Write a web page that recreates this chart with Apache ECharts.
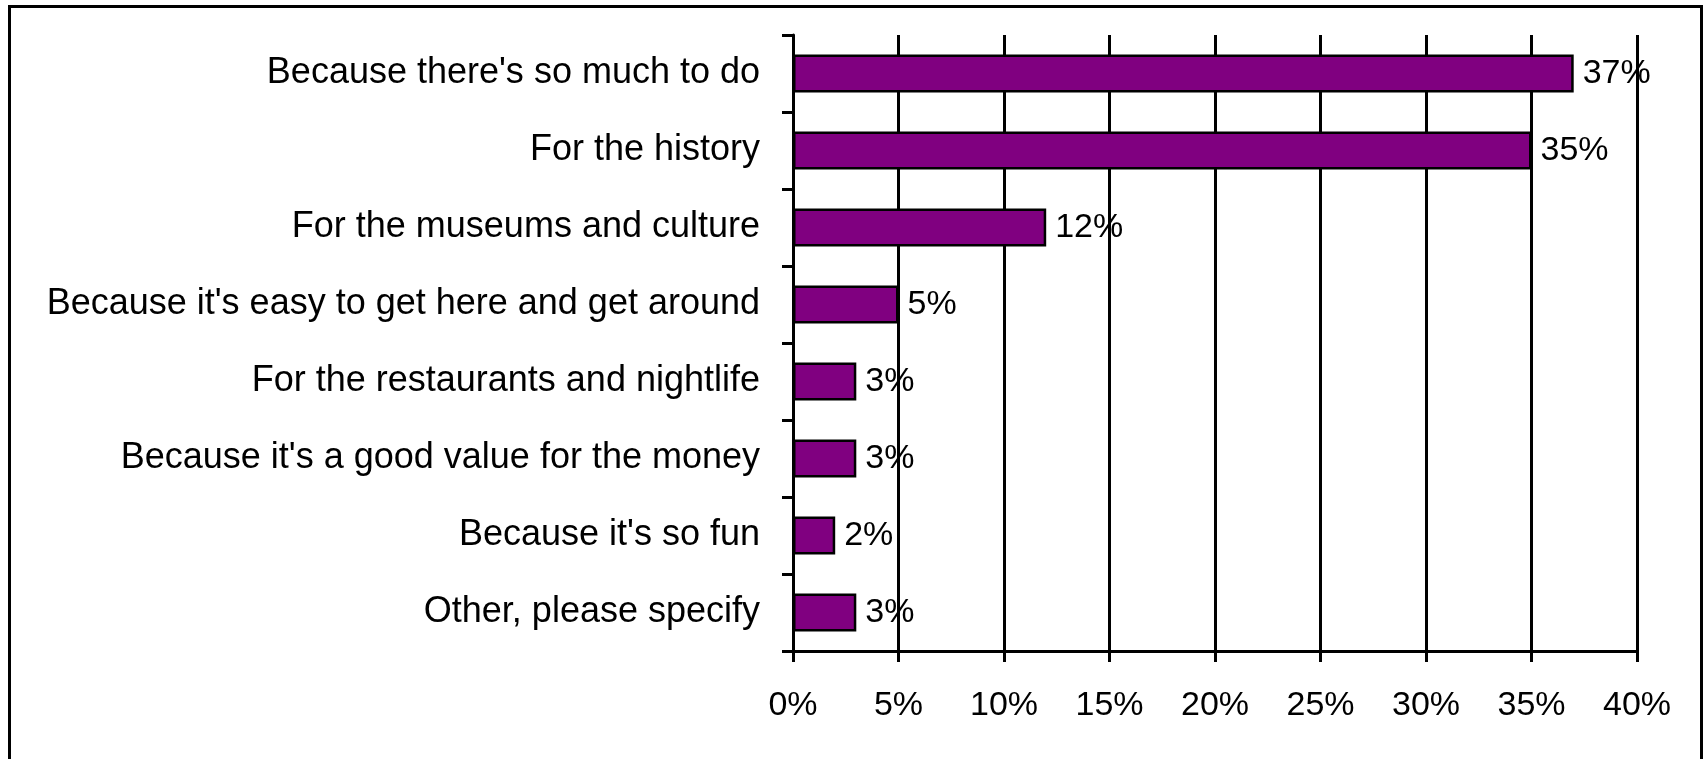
<!DOCTYPE html>
<html>
<head>
<meta charset="utf-8">
<script src="https://cdn.jsdelivr.net/npm/echarts@6/dist/echarts.min.js"></script>
<style>
html,body{margin:0;padding:0;background:#fff;}
#chart{width:1706px;height:759px;}
</style>
</head>
<body>
<div id="chart"></div>
<script>
const categories = [
  "Because there's so much to do",
  "For the history",
  "For the museums and culture",
  "Because it's easy to get here and get around",
  "For the restaurants and nightlife",
  "Because it's a good value for the money",
  "Because it's so fun",
  "Other, please specify"
];
const values = [37, 35, 12, 5, 3, 3, 2, 3];
const xTicks = [0, 5, 10, 15, 20, 25, 30, 35, 40];

const FONT = 'Arial, "Liberation Sans", sans-serif';
const chart = echarts.init(document.getElementById('chart'), null, {renderer: 'canvas'});
chart.setOption({
  animation: false,
  backgroundColor: '#fff',
  grid: {left: 793, right: 69, top: 35, bottom: 108, containLabel: false},
  graphic: [{
    type: 'rect',
    silent: true,
    shape: {x: 9.5, y: 6.5, width: 1692, height: 800},
    style: {fill: 'none', stroke: '#000', lineWidth: 3}
  }],
  xAxis: {
    type: 'value',
    min: xTicks[0],
    max: xTicks[xTicks.length - 1],
    interval: 5,
    axisLine: {show: true, lineStyle: {color: '#000', width: 3}},
    axisTick: {show: true, length: 11, lineStyle: {color: '#000', width: 3}},
    axisLabel: {color: '#000', fontSize: 34, fontFamily: FONT, margin: 38, formatter: v => v + '%'},
    splitLine: {show: true, lineStyle: {color: '#000', width: 3}}
  },
  yAxis: {
    type: 'category',
    inverse: true,
    data: categories,
    axisLine: {show: true, lineStyle: {color: '#000', width: 3}},
    axisTick: {show: true, length: 11, lineStyle: {color: '#000', width: 3}},
    axisLabel: {color: '#000', fontSize: 36, fontFamily: FONT, margin: 33, padding: [5, 0, 0, 0]},
    splitLine: {show: false}
  },
  series: [{
    type: 'bar',
    data: values,
    barWidth: 38,
    itemStyle: {color: '#800080', borderColor: '#000', borderWidth: 2.5},
    label: {show: true, position: 'right', distance: 9, color: '#000', fontSize: 34, fontFamily: FONT, padding: [4, 0, 0, 0], formatter: p => p.value + '%'}
  }]
});
</script>
</body>
</html>
